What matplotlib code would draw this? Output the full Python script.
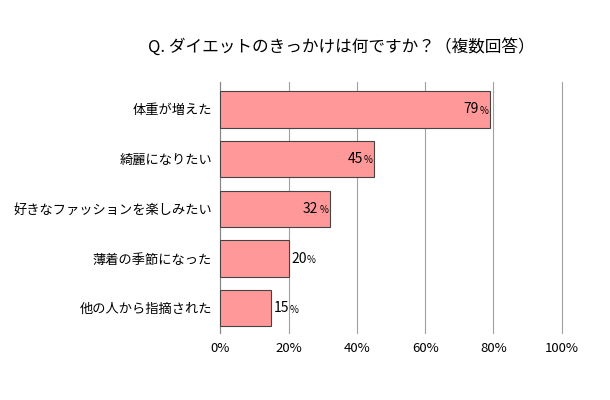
import matplotlib.pyplot as plt
from matplotlib.ticker import MultipleLocator

plt.rcParams['font.family'] = 'Noto Sans CJK JP'

categories = ['体重が増えた', '綺麗になりたい', '好きなファッションを楽しみたい', '薄着の季節になった', '他の人から指摘された']
values = [79, 45, 32, 20, 15]

fig = plt.figure(figsize=(6.1, 4.0), dpi=100)
ax = fig.add_axes([0.361, 0.167, 0.56, 0.628])

y_pos = range(len(categories))
ax.barh(y_pos, values, height=0.73, color='#FF9999', edgecolor='#444444', linewidth=0.8, zorder=3)
ax.set_yticks(list(y_pos), labels=categories, fontsize=9.5)
ax.invert_yaxis()
ax.set_ylim(4.5, -0.55)
ax.set_xlim(0, 100)
ax.xaxis.set_major_locator(MultipleLocator(20))
ax.set_xticklabels([f'{int(t)}%' for t in ax.get_xticks()], fontsize=9.5)
ax.grid(axis='x', color='#A0A0A0', linewidth=0.8, zorder=0, clip_on=False)
ax.tick_params(length=0, pad=6)
for s in ['top', 'right', 'bottom']:
    ax.spines[s].set_visible(False)
ax.spines['left'].set_color('#888888')

for i, v in enumerate(values):
    inside = v > 30
    ax.annotate(str(v), (v, i), xytext=(-8 if inside else 2, 0), textcoords='offset points',
                ha='right' if inside else 'left', va='center', fontsize=10, zorder=5)
    ax.annotate('%', (v, i), xytext=(-1 if inside else 13, -1), textcoords='offset points',
                ha='right' if inside else 'left', va='center', fontsize=7, zorder=5)

fig.text(0.56, 0.882, 'Q. ダイエットのきっかけは何ですか？（複数回答）', ha='center', va='center', fontsize=12)

fig.savefig('out.png')
